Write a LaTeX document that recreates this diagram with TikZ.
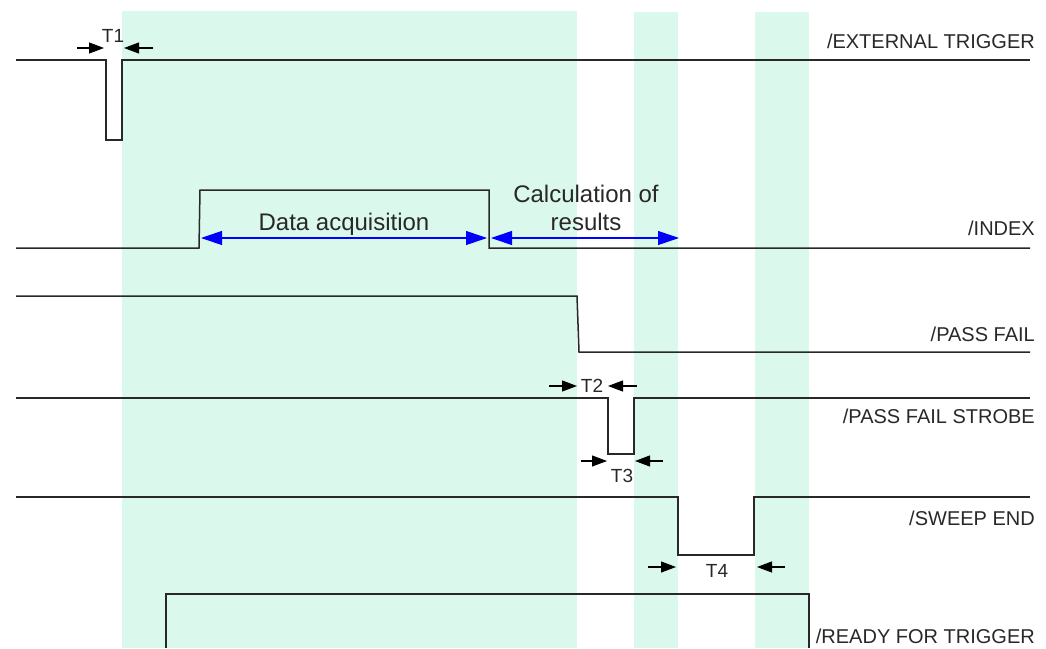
\documentclass[tikz,border=0pt]{standalone}
\usepackage{fontspec}
\setmainfont{Liberation Sans}
\usetikzlibrary{arrows.meta}
\definecolor{band}{RGB}{218,249,236}
\definecolor{sig}{RGB}{40,40,40}
\begin{document}
\begin{tikzpicture}[x=1pt,y=-1pt,
  sigline/.style={draw=sig,line width=1.5pt,line join=miter},
  lbl/.style={anchor=base east,font=\fontsize{20}{24}\selectfont,text=sig,inner sep=0pt},
  tlbl/.style={anchor=base,font=\fontsize{19}{22}\selectfont,text=sig,inner sep=0pt},
  phase/.style={anchor=base,font=\fontsize{24}{28}\selectfont,text=sig,inner sep=0pt},
  dimarrow/.style={-{Triangle[length=15pt,width=11pt]},draw=black,line width=1.1pt},
  spanarrow/.style={{Triangle[length=21pt,width=14pt]}-{Triangle[length=21pt,width=14pt]},draw=blue,line width=1.1pt}]
\useasboundingbox (0,0) rectangle (1046,648);
% green bands
\fill[band] (122,11) rectangle (577,648);
\fill[band] (634,12) rectangle (678,648);
\fill[band] (755,12) rectangle (809,648);
% signals
\draw[sigline] (16,60) -- (106,60) -- (106,140) -- (122,140) -- (122,60) -- (1030,60);
\draw[sigline] (16,248) -- (199,248) -- (200,190) -- (489,190) -- (489,248) -- (1030,248);
\draw[sigline] (16,296) -- (577,296) -- (579,352) -- (1030,352);
\draw[sigline] (16,398) -- (608,398) -- (608,454) -- (634,454) -- (634,398) -- (1030,398);
\draw[sigline] (16,497) -- (678,497) -- (678,555) -- (754,555) -- (754,497) -- (1030,497);
\draw[sigline] (166,648) -- (166,594) -- (809,594) -- (809,648);
% signal labels
\node[lbl] (lext) at (1035,48) {/EXTERNAL TRIGGER};
\node[lbl] (lidx) at (1035,235) {/INDEX};
\node[lbl] (lpf) at (1035,341) {/PASS FAIL};
\node[lbl] (lpfs) at (1035,423) {/PASS FAIL STROBE};
\node[lbl] (lswe) at (1035,525) {/SWEEP END};
\node[lbl] (lrdy) at (1035,643) {/READY FOR TRIGGER};
% phase spans
\coordinate (da1) at (201,238);
\coordinate (da2) at (487,238);
\coordinate (cr1) at (491,238);
\coordinate (cr2) at (679,238);
\draw[spanarrow] (da1) -- (da2);
\draw[spanarrow] (cr1) -- (cr2);
\node[phase] (tda) at (344,230) {Data acquisition};
\node[phase] (tcr1) at (586,202) {Calculation of};
\node[phase] (tcr2) at (586,230) {results};
% T1
\coordinate (t1a) at (77,48);  \coordinate (t1b) at (104,48);
\coordinate (t1c) at (153,48); \coordinate (t1d) at (124,48);
\draw[dimarrow] (t1a) -- (t1b);
\draw[dimarrow] (t1c) -- (t1d);
\node[tlbl] (nt1) at (113,42) {T1};
% T2
\coordinate (t2a) at (549,386); \coordinate (t2b) at (577,386);
\coordinate (t2c) at (637,386); \coordinate (t2d) at (608,386);
\draw[dimarrow] (t2a) -- (t2b);
\draw[dimarrow] (t2c) -- (t2d);
\node[tlbl] (nt2) at (592,392) {T2};
% T3
\coordinate (t3a) at (581,461); \coordinate (t3b) at (607,461);
\coordinate (t3c) at (663,461); \coordinate (t3d) at (635,461);
\draw[dimarrow] (t3a) -- (t3b);
\draw[dimarrow] (t3c) -- (t3d);
\node[tlbl] (nt3) at (622,482) {T3};
% T4
\coordinate (t4a) at (648,567); \coordinate (t4b) at (676,567);
\coordinate (t4c) at (785,567); \coordinate (t4d) at (757,567);
\draw[dimarrow] (t4a) -- (t4b);
\draw[dimarrow] (t4c) -- (t4d);
\node[tlbl] (nt4) at (717,577) {T4};
\end{tikzpicture}
\end{document}
